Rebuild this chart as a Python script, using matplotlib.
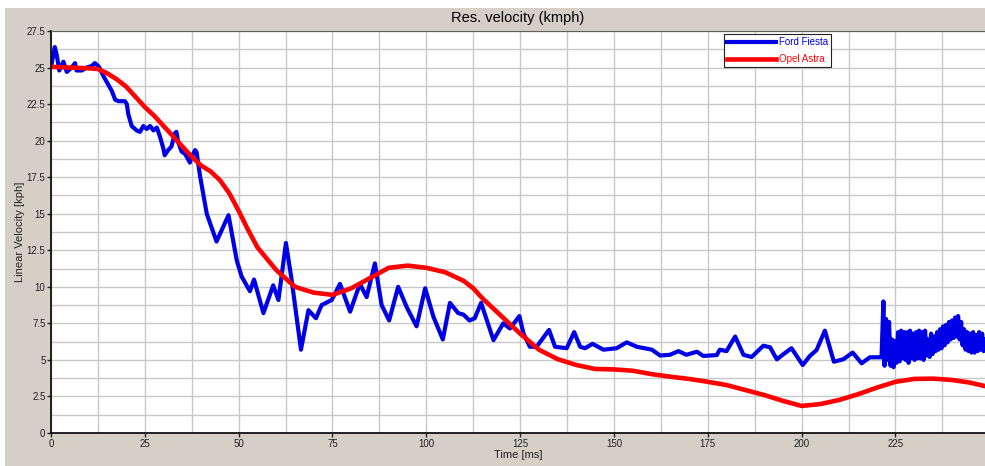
import matplotlib.pyplot as plt
from matplotlib.patches import Rectangle
from matplotlib.ticker import MultipleLocator

plt.rcParams['font.family'] = ['Liberation Sans', 'DejaVu Sans']

# Ford Fiesta (Zeit [ms], Geschwindigkeit [kph])
fiesta_t = [0.2, 1.0, 1.5, 2.2, 3.3, 4.2, 5.5, 6.4, 6.8, 8.2, 9.5, 10.8, 11.7, 12.6, 13.1,
            14.0, 15.3, 16.2, 17.1, 18.0, 19.7, 20.2, 20.6, 21.5, 22.8, 23.7, 24.6, 25.5,
            26.4, 27.3, 28.2, 29.0, 29.9, 30.3, 31.2, 32.1, 33.0, 33.4, 33.9, 34.8, 35.7,
            36.6, 37.0, 37.5, 38.4, 38.8, 39.7, 41.5, 44.1, 47.3, 49.5, 50.8, 53.0, 54.1,
            56.6, 59.2, 60.6, 62.6, 64.1, 66.6, 68.6, 70.6, 72.1, 74.8, 77.0, 79.7, 82.3,
            84.1, 86.3, 88.1, 90.1, 92.5, 94.8, 97.4, 99.7, 101.9, 104.4, 106.3, 108.5,
            109.9, 111.5, 112.9, 114.6, 117.9, 120.5, 122.3, 124.8, 125.9, 127.6, 129.4,
            132.7, 134.3, 137.4, 139.4, 141.0, 142.3, 144.3, 147.2, 150.7, 153.4, 156.1,
            160.1, 162.3, 164.9, 167.2, 169.3, 172.1, 173.8, 177.4, 178.2, 180.0, 182.3,
            184.5, 186.7, 189.8, 191.6, 193.4, 195.2, 197.3, 200.3, 202.2, 204.0, 206.2,
            208.6, 211.1, 213.6, 216.0, 218.2, 221.3, 221.8, 222.1, 222.5, 222.9, 223.3,
            223.7, 224.1, 224.5, 224.9, 225.3, 225.7, 226.1, 226.5, 226.9, 227.3, 227.7,
            228.1, 228.5, 228.9, 229.3, 229.7, 230.1, 230.5, 230.9, 231.3, 231.7, 232.1,
            232.5, 232.9, 233.3, 233.7, 234.1, 234.5, 234.9, 235.3, 235.7, 236.1, 236.5,
            236.9, 237.3, 237.7, 238.1, 238.5, 238.9, 239.3, 239.7, 240.1, 240.5, 240.9,
            241.3, 241.7, 242.1, 242.5, 242.9, 243.3, 243.7, 244.1, 244.5, 244.9, 245.3,
            245.7, 246.1, 246.5, 246.9, 247.3, 247.7, 248.1, 248.5, 249.0]
fiesta_v = [25.3, 26.4, 25.9, 24.8, 25.4, 24.7, 25.0, 25.3, 24.8, 24.8, 25.0, 25.1, 25.3, 25.1, 24.9,
            24.4, 23.8, 23.4, 22.8, 22.7, 22.7, 22.5, 21.8, 21.0, 20.7, 20.6, 21.0, 20.8,
            21.0, 20.7, 20.9, 20.3, 19.5, 19.0, 19.35, 19.6, 20.5, 20.6, 19.9, 19.25, 19.1,
            18.7, 18.5, 18.9, 19.35, 19.2, 17.6, 15.0, 13.1, 14.9, 11.8, 10.7, 9.7, 10.5,
            8.2, 10.1, 9.1, 13.0, 10.5, 5.7, 8.4, 7.85, 8.75, 9.1, 10.2, 8.3, 10.2,
            9.3, 11.6, 8.75, 7.7, 10.0, 8.6, 7.3, 9.9, 7.95, 6.4, 8.9, 8.2,
            8.1, 7.7, 7.85, 8.9, 6.35, 7.5, 7.15, 8.0, 6.8, 5.9, 5.9,
            7.05, 5.9, 5.8, 6.9, 5.9, 5.8, 6.1, 5.7, 5.8, 6.2, 5.9,
            5.7, 5.3, 5.35, 5.6, 5.35, 5.56, 5.27, 5.33, 5.7, 5.6, 6.6,
            5.35, 5.2, 5.97, 5.86, 5.04, 5.4, 5.8, 4.65, 5.27, 5.68, 7.0,
            4.88, 5.04, 5.5, 4.77, 5.18, 5.18, 9.0, 4.6, 7.8, 5.0, 7.6,
            4.6, 6.4, 4.5, 6.3, 4.8, 6.9, 4.9, 7.0, 5.1, 6.9, 5.0,
            6.9, 4.8, 7.0, 5.1, 6.8, 5.0, 6.9, 5.1, 7.0, 5.1, 6.9,
            5.0, 7.0, 5.3, 6.4, 5.2, 6.8, 5.4, 6.6, 5.6, 6.9, 5.7,
            7.1, 5.8, 7.3, 6.0, 7.4, 6.2, 7.6, 6.4, 7.7, 6.5, 7.9,
            6.6, 8.0, 6.4, 7.6, 6.0, 7.1, 5.7, 6.9, 5.6, 6.8, 5.5,
            6.9, 5.5, 6.7, 5.6, 6.9, 5.7, 6.8, 5.6, 6.4]

# Opel Astra
astra_t = [0, 5, 10, 12.5, 15, 17.5, 20, 22.5, 25, 27.5, 30, 32.5, 35, 37.5, 40, 42.5, 45,
           47.5, 50, 52.5, 55, 60, 65, 70, 75, 80, 85, 90, 95, 100, 105, 110, 112.5, 115,
           120, 125, 130, 135, 140, 145, 150, 155, 160, 165, 170, 175, 180, 185, 190, 195,
           200, 205, 210, 215, 220, 225, 230, 235, 240, 245, 249]
astra_v = [25.05, 25.0, 24.95, 24.9, 24.6, 24.2, 23.7, 23.0, 22.3, 21.7, 21.0, 20.3, 19.6, 18.9,
           18.3, 17.9, 17.3, 16.4, 15.2, 13.9, 12.7, 11.15, 10.0, 9.6, 9.45, 9.9, 10.6, 11.3,
           11.45, 11.3, 11.0, 10.4, 9.9, 9.2, 8.0, 6.8, 5.7, 5.05, 4.65, 4.38, 4.35, 4.26,
           4.03, 3.85, 3.7, 3.5, 3.28, 2.94, 2.6, 2.2, 1.85, 1.98, 2.26, 2.65, 3.1, 3.5, 3.7,
           3.72, 3.63, 3.44, 3.2]

fig = plt.figure(figsize=(9.85, 4.66), dpi=100, facecolor='white')
fig.add_artist(Rectangle((5 / 985, 0), 1, 458 / 466, transform=fig.transFigure,
                         facecolor='#d4d0c8', edgecolor='none', zorder=-10))

ax = fig.add_axes([51 / 985, 33 / 466, 934 / 985, 402 / 466])
ax.set_facecolor('white')
ax.plot(fiesta_t, fiesta_v, color='#0000e6', lw=3.0, label='Ford Fiesta', solid_joinstyle='round')
ax.plot(astra_t, astra_v, color='#ff0000', lw=3.3, label='Opel Astra', solid_joinstyle='round')

ax.set_xlim(0, 934 / 3.753)
ax.set_ylim(0, 27.5)
ax.xaxis.set_major_locator(MultipleLocator(25))
ax.xaxis.set_minor_locator(MultipleLocator(12.5))
ax.yaxis.set_major_locator(MultipleLocator(2.5))
ax.yaxis.set_minor_locator(MultipleLocator(1.25))
ax.yaxis.set_major_formatter(lambda v, p: f'{v:g}')
ax.grid(True, which='both', color='#c8c8c8', lw=1)
ax.set_axisbelow(True)
ax.tick_params(which='major', length=3, width=1, labelsize=7, colors='#222222', pad=1)
ax.tick_params(which='minor', length=0)
ax.spines['right'].set_visible(False)
ax.spines['top'].set_color('#606060')
ax.spines['left'].set_linewidth(1.2)
ax.spines['bottom'].set_linewidth(1.2)

ax.set_xlabel('Time [ms]', fontsize=8, color='#222222', labelpad=1)
ax.set_ylabel('Linear Velocity [kph]', fontsize=8, color='#222222', labelpad=1)
fig.text(518 / 985, 1 - 18 / 466, 'Res. velocity (kmph)', ha='center', va='center', fontsize=10.5)

leg = ax.legend(loc='upper left', bbox_to_anchor=((724 - 51) / 934, 1 - 3 / 402), fontsize=7,
                handlelength=5.0, handletextpad=0.35, borderpad=0.3, borderaxespad=0,
                labelspacing=0.75, fancybox=False, framealpha=1, edgecolor='#222222',
                labelcolor='linecolor')
leg.get_frame().set_linewidth(0.8)

plt.savefig('out.png', dpi=100, facecolor=fig.get_facecolor())
